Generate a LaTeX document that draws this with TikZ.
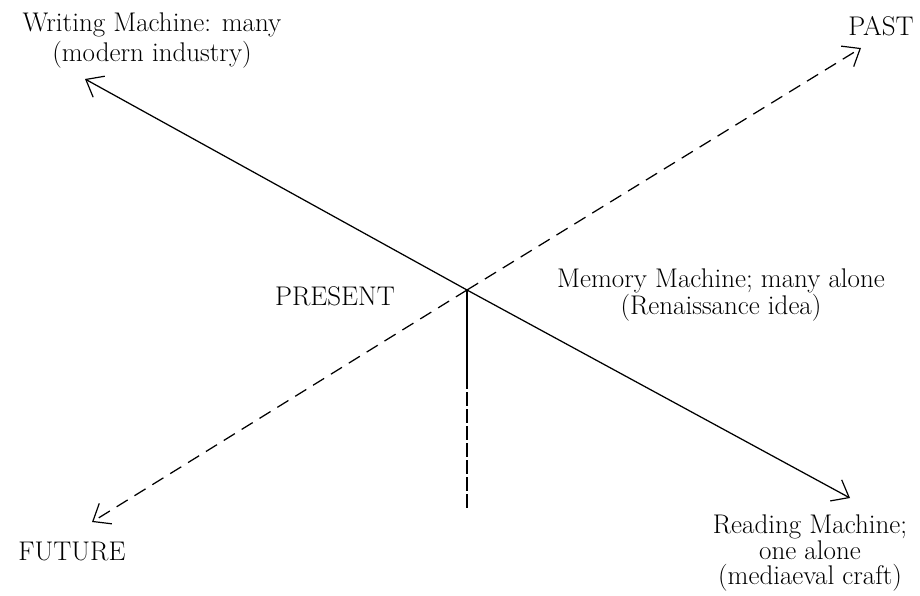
\documentclass[tikz,border=0pt]{standalone}
\usetikzlibrary{arrows.meta}
\begin{document}
\begin{tikzpicture}[x=1pt,y=-1pt,
  lbl/.style={inner sep=0pt,align=center,font=\fontsize{27}{27}\selectfont},
  tip/.style={-{Straight Barb[length=15pt,width=24pt,line width=1.2pt]}},
  ln/.style={line width=1.25pt},
  dsh/.style={ln,dash pattern=on 13pt off 8pt}]
\useasboundingbox (0,0) rectangle (920,595);
\coordinate (c) at (467,290);
\coordinate (wm) at (85,79);
\coordinate (rm) at (850,498);
\coordinate (pa) at (861,48);
\coordinate (fu) at (92,522);
\coordinate (vm) at (467,375);
\coordinate (vb) at (467,508);
\draw[ln,tip] (c) -- (wm);
\draw[ln,tip] (c) -- (rm);
\draw[dsh,tip] (c) -- (pa);
\draw[dsh,tip] (c) -- (fu);
\draw[ln] (c) -- (vm);
\draw[line width=2.4pt,dash pattern=on 14pt off 3pt] (vm) -- (vb);
\node[lbl,font=\fontsize{27}{30}\selectfont] (wt) at (152,41) {Writing Machine: many\\(modern industry)};
\node[lbl] (past) at (881,26) {PAST};
\node[lbl] (pres) at (335,296) {PRESENT};
\node[lbl] (mem) at (721,295) {Memory Machine; many alone\\(Renaissance idea)};
\node[lbl] (fut) at (72,551) {FUTURE};
\node[lbl,font=\fontsize{27}{25.5}\selectfont] (read) at (810,553) {Reading Machine;\\one alone\\(mediaeval craft)};
\end{tikzpicture}
\end{document}
